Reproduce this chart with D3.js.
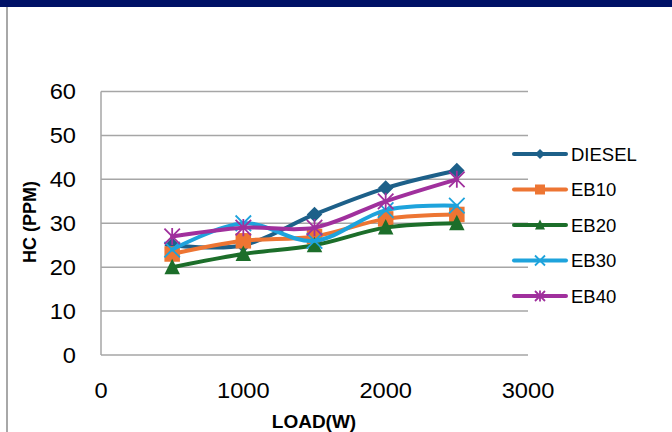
<!DOCTYPE html>
<html>
<head>
<meta charset="utf-8">
<script src="https://cdn.jsdelivr.net/npm/d3@7"></script>
<style>
  body { margin: 0; background: #fff; }
  svg { display: block; font-family: "Liberation Sans", Arial, sans-serif; }
</style>
</head>
<body>
<div id="chart"></div>
<script>
const loads = [500, 1000, 1500, 2000, 2500];
const seriesNames = ["DIESEL", "EB10", "EB20", "EB30", "EB40"];
const diesel = [25, 25, 32, 38, 42];
const eb10 = [23, 26, 27, 31, 32];
const eb20 = [20, 23, 25, 29, 30];
const eb30 = [24, 30, 26, 33, 34];
const eb40 = [27, 29, 29, 35, 40];
const xTicks = [0, 1000, 2000, 3000];
const yTicks = [0, 10, 20, 30, 40, 50, 60];

const colors = ["#1d6089", "#ed7533", "#1c6e2a", "#1ea3dc", "#a0309d"];
const symbols = ["diamond", "square", "triangle", "x", "star"];
const allSeries = [diesel, eb10, eb20, eb30, eb40];

const width = 672, height = 432;
const svg = d3.select("#chart").append("svg")
  .attr("width", width).attr("height", height);

// frame bits
svg.append("rect").attr("x", 0).attr("y", 0).attr("width", width).attr("height", 7).attr("fill", "#001166");
svg.append("line").attr("x1", 7).attr("x2", 7).attr("y1", 7).attr("y2", height)
  .attr("stroke", "#a8a8a8").attr("stroke-width", 2);

const x = d3.scaleLinear().domain([0, 3000]).range([101, 528]);
const y = d3.scaleLinear().domain([0, 60]).range([355, 91.5]);

// gridlines
svg.append("g").selectAll("line").data(yTicks).join("line")
  .attr("x1", x(0)).attr("x2", x(3000))
  .attr("y1", d => y(d)).attr("y2", d => y(d))
  .attr("stroke", "#a6a6a6").attr("stroke-width", 1.5);
svg.append("line").attr("x1", x(0)).attr("x2", x(0)).attr("y1", y(60)).attr("y2", y(0))
  .attr("stroke", "#a6a6a6").attr("stroke-width", 1.5);

// tick labels (slightly wide glyphs in the original)
svg.append("g").selectAll("text").data(yTicks).join("text")
  .attr("transform", d => `translate(76,${y(d)}) scale(1.1,1)`).attr("dy", "0.36em")
  .attr("text-anchor", "end").attr("font-size", 21.5).attr("fill", "#000")
  .text(d => d);
svg.append("g").selectAll("text").data(xTicks).join("text")
  .attr("transform", d => `translate(${x(d)},390) scale(1.1,1)`).attr("dy", "0.36em")
  .attr("text-anchor", "middle").attr("font-size", 21.5).attr("fill", "#000")
  .text(d => d);

// axis titles
svg.append("text").attr("x", 314).attr("y", 421).attr("dy", "0.36em")
  .attr("text-anchor", "middle").attr("font-size", 19).attr("font-weight", "bold")
  .text("LOAD(W)");
svg.append("text").attr("transform", "translate(30,222) rotate(-90)").attr("dy", "0.36em")
  .attr("text-anchor", "middle").attr("font-size", 18).attr("font-weight", "bold")
  .text("HC (PPM)");

function drawMarker(g, type, cx, cy, s, color) {
  if (type === "diamond") {
    g.append("path").attr("d", `M${cx},${cy - s / 2}L${cx + s / 2},${cy}L${cx},${cy + s / 2}L${cx - s / 2},${cy}Z`)
      .attr("fill", color);
  } else if (type === "square") {
    g.append("rect").attr("x", cx - s / 2).attr("y", cy - s / 2).attr("width", s).attr("height", s)
      .attr("fill", color);
  } else if (type === "triangle") {
    g.append("path").attr("d", `M${cx},${cy - s * 0.55}L${cx + s / 2},${cy + s * 0.45}L${cx - s / 2},${cy + s * 0.45}Z`)
      .attr("fill", color);
  } else if (type === "x") {
    const h = s / 2;
    g.append("path").attr("d", `M${cx - h},${cy - h}L${cx + h},${cy + h}M${cx - h},${cy + h}L${cx + h},${cy - h}`)
      .attr("stroke", color).attr("stroke-width", 1.8).attr("fill", "none");
  } else {
    const h = s / 2;
    g.append("path").attr("d", `M${cx - h},${cy - h}L${cx + h},${cy + h}M${cx - h},${cy + h}L${cx + h},${cy - h}M${cx},${cy - h * 1.1}L${cx},${cy + h * 1.1}`)
      .attr("stroke", color).attr("stroke-width", 1.8).attr("fill", "none");
  }
}

const line = d3.line().x(d => x(d[0])).y(d => y(d[1])).curve(d3.curveCardinal.tension(0));

allSeries.forEach((vals, i) => {
  const g = svg.append("g");
  const pts = loads.map((l, j) => [l, vals[j]]);
  g.append("path").attr("d", line(pts)).attr("fill", "none")
    .attr("stroke", colors[i]).attr("stroke-width", 4).attr("stroke-linecap", "round");
  pts.forEach(p => drawMarker(g, symbols[i], x(p[0]), y(p[1]), 15.5, colors[i]));
});

// legend
const legendY = [154, 189.5, 225, 260.5, 296];
seriesNames.forEach((name, i) => {
  const g = svg.append("g");
  g.append("line").attr("x1", 514).attr("x2", 566).attr("y1", legendY[i]).attr("y2", legendY[i])
    .attr("stroke", colors[i]).attr("stroke-width", 4).attr("stroke-linecap", "round");
  drawMarker(g, symbols[i], 540, legendY[i], 10, colors[i]);
  g.append("text").attr("x", 571).attr("y", legendY[i]).attr("dy", "0.36em")
    .attr("font-size", 18.5).attr("fill", "#000").text(name);
});
</script>
</body>
</html>
